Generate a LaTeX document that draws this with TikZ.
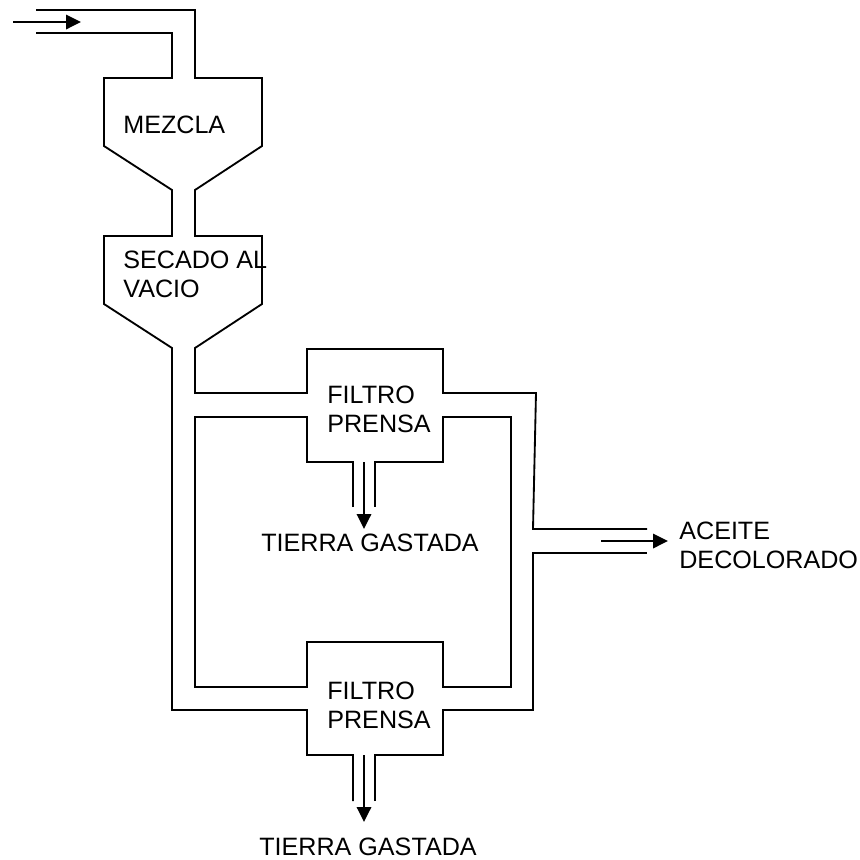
\documentclass[tikz,border=0pt]{standalone}
\usepackage{fontspec}
\setmainfont{Liberation Sans}
\usetikzlibrary{arrows.meta}
\tikzset{
	pipe/.style={line width=1.05pt,line join=miter},
	flow/.style={line width=1.05pt,-{Triangle[length=0.3cm,width=0.29cm]}},
	etiqueta/.style={anchor=base west,inner sep=0pt,align=left,font=\fontsize{14.3pt}{16.5pt}\selectfont}
}
\begin{document}
\begin{tikzpicture}[x=0.02cm,y=-0.02cm]
		\useasboundingbox (0,0) rectangle (860,860);

		\draw [pipe] (36,10) -- (195,10) -- (195,78) -- (262,78) -- (262,146) -- (195,190) -- (195,236) -- (262,236) -- (262,304) -- (195,348) -- (195,393) -- (307,393) -- (307,349) -- (443,349) -- (443,393) -- (536,393) -- (533,529) -- (647,529);

		\draw [pipe] (36,33) -- (172,33) -- (172,78) -- (104,78) -- (104,146) -- (172,190) -- (172,236) -- (104,236) -- (104,304) -- (172,348) -- (172,710) -- (307,710) -- (307,755) -- (353,755) -- (353,801);

		\draw [pipe] (375,801) -- (375,755) -- (443,755) -- (443,710) -- (533,710) -- (533,553) -- (647,553);

		\draw [pipe] (353,507) -- (353,462) -- (307,462) -- (307,417) -- (195,417) -- (195,687) -- (307,687) -- (307,642) -- (443,642) -- (443,687) -- (511,687) -- (511,417) -- (443,417) -- (443,462) -- (375,462) -- (375,507);

		\coordinate (entrada) at (13,22);
		\coordinate (entrada fin) at (81,22);
		\coordinate (filtro1) at (364,462);
		\coordinate (filtro1 fin) at (364,529);
		\coordinate (filtro2) at (364,755);
		\coordinate (filtro2 fin) at (364,822);
		\coordinate (salida) at (601,541);
		\coordinate (salida fin) at (668,541);

		\draw [flow] (entrada) -- (entrada fin);
		\draw [flow] (filtro1) -- (filtro1 fin);
		\draw [flow] (filtro2) -- (filtro2 fin);
		\draw [flow] (salida) -- (salida fin);

		\node [etiqueta] (mezcla) at (123,133) {MEZCLA};
		\node [etiqueta] (secado) at (123,297) {SECADO AL\\VACIO};
		\node [etiqueta] (prensa1) at (327,432) {FILTRO\\PRENSA};
		\node [etiqueta] (prensa2) at (327,728) {FILTRO\\PRENSA};
		\node [etiqueta] (tierra1) at (261,551) {TIERRA GASTADA};
		\node [etiqueta] (tierra2) at (259,855) {TIERRA GASTADA};
		\node [etiqueta] (aceite) at (679,568) {ACEITE\\DECOLORADO};
	\end{tikzpicture}
\end{document}
